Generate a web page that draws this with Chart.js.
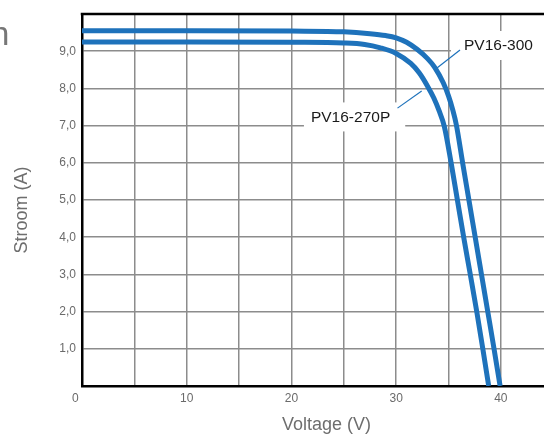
<!DOCTYPE html>
<html><head><meta charset="utf-8">
<script src="https://cdn.jsdelivr.net/npm/chart.js@4"></script>
<style>
html,body{margin:0;padding:0;overflow:hidden;background:#fff;width:544px;height:436px;}
#wrap{position:relative;width:576px;height:436px;}
#cut{position:absolute;left:-9.5px;top:16px;font-family:"Liberation Sans",Arial,sans-serif;font-size:34px;color:#777;line-height:1;}
</style></head><body>
<div id="wrap"><canvas id="c" width="576" height="436"></canvas><span id="cut">n</span></div>
<script>
// ---- data ----
const seriesNames = ['PV16-300', 'PV16-270P'];
const voltage300 = [0, 10, 20, 25, 27.5, 29, 30, 31, 32, 33, 33.7, 34.5, 35, 35.4, 35.75, 36.35, 36.95, 37.55, 38.15, 38.75, 39.35, 39.93];
const current300 = [9.55, 9.55, 9.54, 9.52, 9.47, 9.42, 9.36, 9.24, 9.05, 8.8, 8.56, 8.15, 7.8, 7.43, 7.02, 6.0, 5.0, 4.0, 3.0, 2.0, 1.0, 0];
const voltage270 = [0, 10, 20, 25, 27, 28.5, 30, 31.4, 32.2, 33, 33.6, 34.1, 34.6, 35.25, 35.85, 36.45, 37.08, 37.7, 38.28, 38.84];
const current270 = [9.25, 9.25, 9.24, 9.22, 9.18, 9.09, 8.94, 8.67, 8.42, 8.06, 7.74, 7.4, 6.98, 6.0, 5.0, 4.0, 3.0, 2.0, 1.0, 0];
const xTickValues = [0, 10, 20, 30, 40];
const xTickLabels = ['0    ', '10', '20', '30', '40'];
const yTickValues = [1, 2, 3, 4, 5, 6, 7, 8, 9];
const yTickLabels = ['1,0', '2,0', '3,0', '4,0', '5,0', '6,0', '7,0', '8,0', '9,0'];
const xTitle = 'Voltage (V)';
const yTitle = 'Stroom (A)';

// ---- annotation placement (data coordinates) ----
const labelAt = [[39.77, 9.14], [25.65, 7.22]];
const leaderFrom = [[33.9, 8.55], [30.13, 7.47]];
const leaderTo = [[36.1, 9.03], [32.44, 7.93]];
const boxPad = [[13, 60], [7, 15]];

const FONT = '"Liberation Sans", Arial, Helvetica, sans-serif';
const BLUE = '#1e72bb';

const toPts = (xs, ys) => xs.map((v, i) => ({x: v, y: ys[i]}));

const annotate = {
  id: 'annotate',
  beforeDatasetsDraw(chart) {
    const {ctx, scales: {x, y}} = chart;
    ctx.save();
    ctx.font = '15.5px ' + FONT;
    seriesNames.forEach((t, i) => {
      const px = x.getPixelForValue(labelAt[i][0]);
      const py = y.getPixelForValue(labelAt[i][1]);
      const w = ctx.measureText(t).width;
      ctx.fillStyle = '#fff';
      ctx.fillRect(px - w / 2 - boxPad[i][0], py - 15, w + boxPad[i][0] + boxPad[i][1], 29);
      ctx.fillStyle = '#1a1a1a';
      ctx.textAlign = 'center';
      ctx.textBaseline = 'middle';
      ctx.fillText(t, px, py);
      ctx.strokeStyle = BLUE;
      ctx.lineWidth = 1.2;
      ctx.beginPath();
      ctx.moveTo(x.getPixelForValue(leaderFrom[i][0]), y.getPixelForValue(leaderFrom[i][1]));
      ctx.lineTo(x.getPixelForValue(leaderTo[i][0]), y.getPixelForValue(leaderTo[i][1]));
      ctx.stroke();
    });
    ctx.restore();
  },
  afterDraw(chart) {
    const {ctx, chartArea} = chart;
    ctx.save();
    ctx.strokeStyle = '#000';
    ctx.lineWidth = 2.5;
    ctx.beginPath();
    ctx.moveTo(chartArea.left - 1.25, chartArea.top);
    ctx.lineTo(chartArea.right, chartArea.top);
    ctx.stroke();
    ctx.restore();
  }
};

new Chart(document.getElementById('c'), {
  type: 'line',
  data: {
    datasets: [
      {label: seriesNames[0], data: toPts(voltage300, current300)},
      {label: seriesNames[1], data: toPts(voltage270, current270)}
    ].map(d => Object.assign(d, {
      borderColor: BLUE, borderWidth: 5, pointRadius: 0, fill: false,
      cubicInterpolationMode: 'monotone', borderCapStyle: 'butt'
    }))
  },
  options: {
    responsive: false,
    devicePixelRatio: 1,
    animation: false,
    layout: {padding: {left: 0, top: 14, right: 2, bottom: 0}},
    plugins: {legend: {display: false}, tooltip: {enabled: false}},
    scales: {
      x: {
        type: 'linear', min: 0, max: 46.7,
        afterFit(s) { s.height = 50; },
        border: {color: '#000', width: 2.5},
        grid: {color: '#8c8c8c', lineWidth: 1.5, drawTicks: false},
        ticks: {
          stepSize: 5, autoSkip: false, maxRotation: 0, padding: 5,
          color: '#6a6a6a', font: {family: FONT, size: 12},
          callback: v => { const k = xTickValues.indexOf(v); return k >= 0 ? xTickLabels[k] : ''; }
        },
        title: {display: true, text: xTitle, color: '#6e6e6e', font: {family: FONT, size: 18}, padding: {top: 0, bottom: 0}}
      },
      y: {
        type: 'linear', min: 0, max: 10,
        afterFit(s) { s.width = 82; },
        border: {color: '#000', width: 2.5},
        grid: {color: '#8c8c8c', lineWidth: 1.5, drawTicks: false},
        ticks: {
          stepSize: 1, autoSkip: false, padding: 6,
          color: '#6a6a6a', font: {family: FONT, size: 12},
          callback: v => { const k = yTickValues.indexOf(v); return k >= 0 ? yTickLabels[k] : ''; }
        },
        title: {display: true, text: yTitle + '    ', color: '#6e6e6e', font: {family: FONT, size: 18}, padding: {top: 11, bottom: 0}}
      }
    }
  },
  plugins: [annotate]
});
</script>
</body></html>
